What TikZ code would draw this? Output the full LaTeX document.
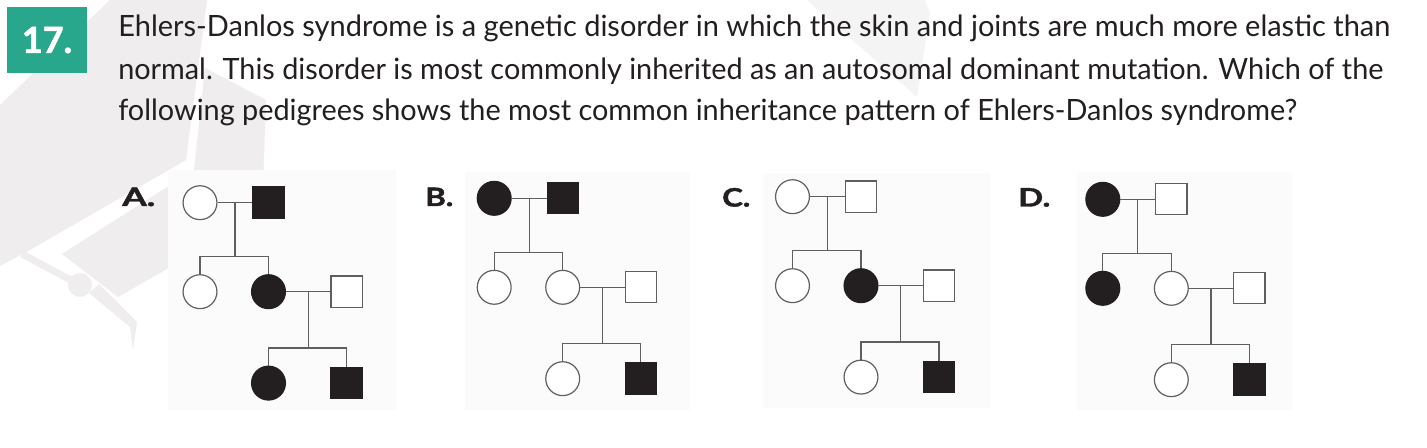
\documentclass[tikz,border=0pt]{standalone}
\usepackage{fontspec}
\setmainfont{Lato}
\newfontfamily\heavyfont{Lato}[BoldFeatures={FakeBold=1.6}]
\usetikzlibrary{calc}
\definecolor{ink}{HTML}{231F20}
\definecolor{linegray}{HTML}{5F5F5F}
\definecolor{badge}{RGB}{40,167,140}
\definecolor{capgray}{HTML}{EFEDED}
\definecolor{panelgray}{HTML}{FBFBFB}
\begin{document}
\begin{tikzpicture}[x=0.75pt,y=-0.75pt,
    female/.style={circle,draw=linegray,line width=0.9pt,fill=white,minimum size=25.4pt,inner sep=0pt},
    male/.style={rectangle,draw=linegray,line width=0.9pt,fill=white,minimum size=23.4pt,inner sep=0pt},
    affected/.style={fill=ink,draw=ink},
    kin/.style={draw=linegray,line width=0.9pt},
    stem/.style={anchor=base west,inner sep=0pt,text=ink,font=\fontsize{22pt}{26pt}\selectfont},
    option/.style={anchor=base west,inner sep=0pt,text=ink,font=\fontsize{19pt}{22pt}\selectfont\heavyfont\bfseries}]
  \fill[white] (0,0) rectangle (1427,448);
  \useasboundingbox (0,0) rectangle (1427,448);
  % faint cap behind the question
  \fill[capgray] (110,0) -- (207,0) -- (186,160) -- (30,250) -- (0,266) -- (0,105) -- cycle;
  \fill[capgray] (205,68) -- (266,100) -- (262,215) -- (118,297) -- (62,254) -- (194,170) -- cycle;
  \draw[capgray,line width=5.2pt] (22,254) -- (78,284);
  \fill[capgray] (80,285) circle[radius=12];
  \fill[capgray] (89,293) -- (99,284) -- (137,322) -- (133,350) -- (130,327) -- cycle;
  \fill[capgray!60] (807,0) -- (925,0) -- (930,13) -- (917,97) -- cycle;
  \fill[panelgray] (168,170) rectangle (396,410);
  \fill[panelgray] (465,172) rectangle (690,410);
  \fill[panelgray] (763,173) rectangle (990,408);
  \fill[panelgray] (1077,172) rectangle (1292,410);
  % question
  \node[fill=badge,text=white,minimum width=60pt,minimum height=49.5pt,inner sep=0pt,
    font=\fontsize{27pt}{29pt}\selectfont\heavyfont\bfseries] (qnum) at (47,40) {17.};
  \node[stem] (line1) at (118,36.7) {\resizebox{954pt}{\height}{Ehlers-Danlos syndrome is a genetic disorder in which the skin and joints are much more elastic than}};
  \node[stem] (line2) at (118,80) {\resizebox{948.7pt}{\height}{normal. This disorder is most commonly inherited as an autosomal dominant mutation. Which of the}};
  \node[stem] (line3) at (118,120.7) {\resizebox{884.2pt}{\height}{following pedigrees shows the most common inheritance pattern of Ehlers-Danlos syndrome?}};
  % answer labels
  \node[option] (labA) at (122,206) {\resizebox{24.7pt}{\height}{A.}};
  \node[option] (labB) at (425,206) {\resizebox{21pt}{\height}{B.}};
  \node[option] (labC) at (722,206.5) {\resizebox{21pt}{\height}{C.}};
  \node[option] (labD) at (1018,206.5) {\resizebox{24pt}{\height}{D.}};
  % pedigree A
  \begin{scope}[shift={(200,202.7)}]
    \node[female] (AI1) at (0,0) {};
    \node[male,affected] (AI2) at (68.5,0) {};
    \node[female] (AII1) at (0,89) {};
    \node[female,affected] (AII2) at (68.5,89) {};
    \node[male] (AII3) at (146.5,89) {};
    \node[female,affected] (AIII1) at (68.5,180.4) {};
    \node[male,affected] (AIII2) at (146.5,180.4) {};
  \end{scope}
  \coordinate (Am1) at ($(AI1.east)!.5!(AI2.west)$);
  \coordinate (Am2) at ($(AII2.east)!.5!(AII3.west)$);
  \coordinate (As1) at ($(AII1.north)+(0,-17.5)$);
  \coordinate (As2) at ($(AIII1.north)+(0,-17.5)$);
  \draw[kin] (AI1) -- (AI2);
  \draw[kin] (AII2) -- (AII3);
  \draw[kin] (Am1) -- (Am1 |- As1);
  \draw[kin] (AII1.north) -- (As1) -| (AII2.north);
  \draw[kin] (Am2) -- (Am2 |- As2);
  \draw[kin] (AIII1.north) -- (As2) -| (AIII2.north);
  % pedigree B
  \begin{scope}[shift={(494.2,198.3)}]
    \node[female,affected] (BI1) at (0,0) {};
    \node[male,affected] (BI2) at (68.5,0) {};
    \node[female] (BII1) at (0,89) {};
    \node[female] (BII2) at (68.5,89) {};
    \node[male] (BII3) at (146.5,89) {};
    \node[female] (BIII1) at (68.5,180.4) {};
    \node[male,affected] (BIII2) at (146.5,180.4) {};
  \end{scope}
  \coordinate (Bm1) at ($(BI1.east)!.5!(BI2.west)$);
  \coordinate (Bm2) at ($(BII2.east)!.5!(BII3.west)$);
  \coordinate (Bs1) at ($(BII1.north)+(0,-17.5)$);
  \coordinate (Bs2) at ($(BIII1.north)+(0,-17.5)$);
  \draw[kin] (BI1) -- (BI2);
  \draw[kin] (BII2) -- (BII3);
  \draw[kin] (Bm1) -- (Bm1 |- Bs1);
  \draw[kin] (BII1.north) -- (Bs1) -| (BII2.north);
  \draw[kin] (Bm2) -- (Bm2 |- Bs2);
  \draw[kin] (BIII1.north) -- (Bs2) -| (BIII2.north);
  % pedigree C
  \begin{scope}[shift={(792.5,196.7)}]
    \node[female] (CI1) at (0,0) {};
    \node[male] (CI2) at (68.5,0) {};
    \node[female] (CII1) at (0,89) {};
    \node[female,affected] (CII2) at (68.5,89) {};
    \node[male] (CII3) at (146.5,89) {};
    \node[female] (CIII1) at (68.5,180.4) {};
    \node[male,affected] (CIII2) at (146.5,180.4) {};
  \end{scope}
  \coordinate (Cm1) at ($(CI1.east)!.5!(CI2.west)$);
  \coordinate (Cm2) at ($(CII2.east)!.5!(CII3.west)$);
  \coordinate (Cs1) at ($(CII1.north)+(0,-17.5)$);
  \coordinate (Cs2) at ($(CIII1.north)+(0,-17.5)$);
  \draw[kin] (CI1) -- (CI2);
  \draw[kin] (CII2) -- (CII3);
  \draw[kin] (Cm1) -- (Cm1 |- Cs1);
  \draw[kin] (CII1.north) -- (Cs1) -| (CII2.north);
  \draw[kin] (Cm2) -- (Cm2 |- Cs2);
  \draw[kin] (CIII1.north) -- (Cs2) -| (CIII2.north);
  % pedigree D
  \begin{scope}[shift={(1102.8,199.3)}]
    \node[female,affected] (DI1) at (0,0) {};
    \node[male] (DI2) at (68.5,0) {};
    \node[female,affected] (DII1) at (0,89) {};
    \node[female] (DII2) at (68.5,89) {};
    \node[male] (DII3) at (146.5,89) {};
    \node[female] (DIII1) at (68.5,180.4) {};
    \node[male,affected] (DIII2) at (146.5,180.4) {};
  \end{scope}
  \coordinate (Dm1) at ($(DI1.east)!.5!(DI2.west)$);
  \coordinate (Dm2) at ($(DII2.east)!.5!(DII3.west)$);
  \coordinate (Ds1) at ($(DII1.north)+(0,-17.5)$);
  \coordinate (Ds2) at ($(DIII1.north)+(0,-17.5)$);
  \draw[kin] (DI1) -- (DI2);
  \draw[kin] (DII2) -- (DII3);
  \draw[kin] (Dm1) -- (Dm1 |- Ds1);
  \draw[kin] (DII1.north) -- (Ds1) -| (DII2.north);
  \draw[kin] (Dm2) -- (Dm2 |- Ds2);
  \draw[kin] (DIII1.north) -- (Ds2) -| (DIII2.north);
\end{tikzpicture}
\end{document}
